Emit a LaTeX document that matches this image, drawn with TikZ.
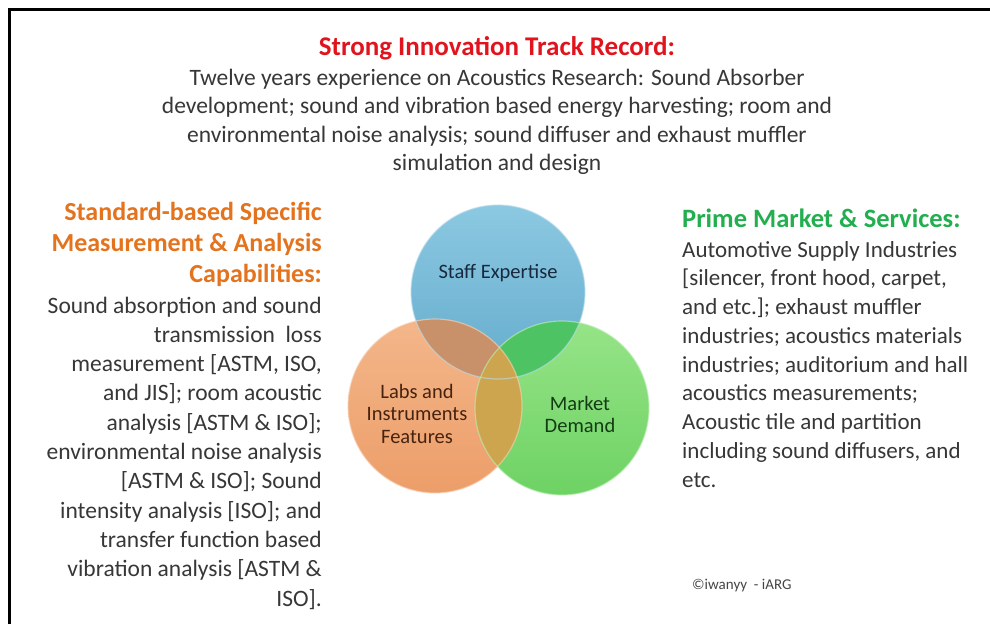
\documentclass[tikz,border=0pt]{standalone}
\usepackage{fontspec}
\setmainfont{Carlito}
\definecolor{txt}{RGB}{55,55,55}
\definecolor{tred}{RGB}{225,20,30}
\definecolor{torange}{RGB}{228,115,30}
\definecolor{tgreen}{RGB}{35,175,80}
\definecolor{cblue}{RGB}{100,172,205}
\definecolor{cbluel}{RGB}{140,200,225}
\definecolor{corange}{RGB}{236,158,105}
\definecolor{corangel}{RGB}{244,182,138}
\definecolor{cgreen}{RGB}{110,210,100}
\definecolor{cgreenl}{RGB}{150,228,135}
\definecolor{obo}{RGB}{200,145,105}
\definecolor{obg}{RGB}{78,195,100}
\definecolor{oog}{RGB}{205,165,78}
\tikzset{
  body/.style={inner sep=0pt, text=txt, font=\fontsize{23.5}{28.5}\selectfont},
  bodyr/.style={inner sep=0pt, text=txt, font=\fontsize{23}{28.5}\selectfont},
  ttl/.style={inner sep=0pt, font=\bfseries\fontsize{26}{31}\selectfont},
  venn/.style={circle, minimum size=174pt, inner sep=0pt},
  vedge/.style={line width=1.2pt, draw opacity=0.6},
  vlabel/.style={inner sep=0pt, font=\fontsize{20.5}{22.5}\selectfont, align=center}
}
\begin{document}
\begin{tikzpicture}[x=1pt,y=-1pt]
\useasboundingbox (0,0) rectangle (990,624);
\fill[white] (0,0) rectangle (990,624);
% frame
\coordinate (fb) at (9,624);
\coordinate (fc) at (9,9);
\coordinate (fr) at (990,9);
\draw[line width=3pt] (fb) -- (fc) -- (fr);

% Venn circles
\node[venn, top color=cbluel, bottom color=cblue] (blue) at (498,292) {};
\node[venn, top color=corangel, bottom color=corange] (orange) at (435,406) {};
\node[venn, top color=cgreenl, bottom color=cgreen] (green) at (562,408) {};
\begin{scope}
  \clip (blue.center) circle[radius=87pt];
  \fill[obo] (orange.center) circle[radius=87pt];
  \fill[obg] (green.center) circle[radius=87pt];
\end{scope}
\begin{scope}
  \clip (orange.center) circle[radius=87pt];
  \fill[oog] (green.center) circle[radius=87pt];
\end{scope}
\draw[vedge, draw=cbluel!60!white] (blue.center) circle[radius=87pt];
\draw[vedge, draw=corangel!60!white] (orange.center) circle[radius=87pt];
\draw[vedge, draw=cgreenl!60!white] (green.center) circle[radius=87pt];

\node[vlabel, text={rgb,255:red,25;green,40;blue,60}, anchor=base] (lstaff) at (498,278) {Staff Expertise};
\node[vlabel, text={rgb,255:red,70;green,35;blue,15}, anchor=base] (llabs1) at (417,398) {Labs and};
\node[vlabel, text={rgb,255:red,70;green,35;blue,15}, anchor=base] (llabs2) at (417,420.5) {Instruments};
\node[vlabel, text={rgb,255:red,70;green,35;blue,15}, anchor=base] (llabs3) at (417,443) {Features};
\node[vlabel, text={rgb,255:red,20;green,60;blue,20}, anchor=base] (lmkt1) at (580,410) {Market};
\node[vlabel, text={rgb,255:red,20;green,60;blue,20}, anchor=base] (lmkt2) at (580,432.5) {Demand};

% Top block
\node[ttl, text=tred, anchor=base, font=\bfseries\fontsize{27}{31}\selectfont] (ttop) at (497,55) {Strong Innovation Track Record:};
\foreach [count=\i] \t in {
  {Twelve years experience on Acoustics Research: Sound Absorber},
  {development; sound and vibration based energy harvesting; room and},
  {environmental noise analysis; sound diffuser and exhaust muffler},
  {simulation and design}}
  \node[body, anchor=base] (top\i) at (497,{85+28.5*(\i-1)}) {\t};

% Left block
\foreach [count=\i] \t in {
  {Standard-based Specific},
  {Measurement \& Analysis},
  {Capabilities:}}
  \node[ttl, text=torange, anchor=base east] (lt\i) at (322,{220+31*(\i-1)}) {\t};
\foreach [count=\i] \t in {
  {Sound absorption\ and\ sound},
  {transmission\ \ loss},
  {measurement [ASTM, ISO,},
  {and JIS]; room acoustic},
  {analysis [ASTM \& ISO];},
  {environmental noise analysis},
  {[ASTM \& ISO]; Sound},
  {intensity analysis\ [ISO]; and},
  {transfer function based},
  {vibration\ analysis [ASTM \&},
  {ISO].}}
  \node[body, anchor=base east] (lb\i) at (322,{313+29.3*(\i-1)}) {\t};

% Right block
\node[ttl, text=tgreen, anchor=base west, font=\bfseries\fontsize{26.5}{31}\selectfont] (rt) at (682,227) {Prime Market \& Services:};
\foreach [count=\i] \t in {
  {Automotive Supply Industries},
  {[silencer, front hood, carpet,},
  {and etc.]; exhaust muffler},
  {industries; acoustics materials},
  {industries; auditorium and hall},
  {acoustics measurements;},
  {Acoustic tile and partition},
  {including sound diffusers, and},
  {etc.}}
  \node[bodyr, anchor=base west] (rb\i) at (682,{257+28.75*(\i-1)}) {\t};

% copyright
\node[inner sep=0pt, anchor=base west, text={rgb,255:red,70;green,70;blue,70}, font=\fontsize{15}{17}\selectfont] (copy) at (692,589) {©iwanyy\ \ - iARG};
\end{tikzpicture}
\end{document}
